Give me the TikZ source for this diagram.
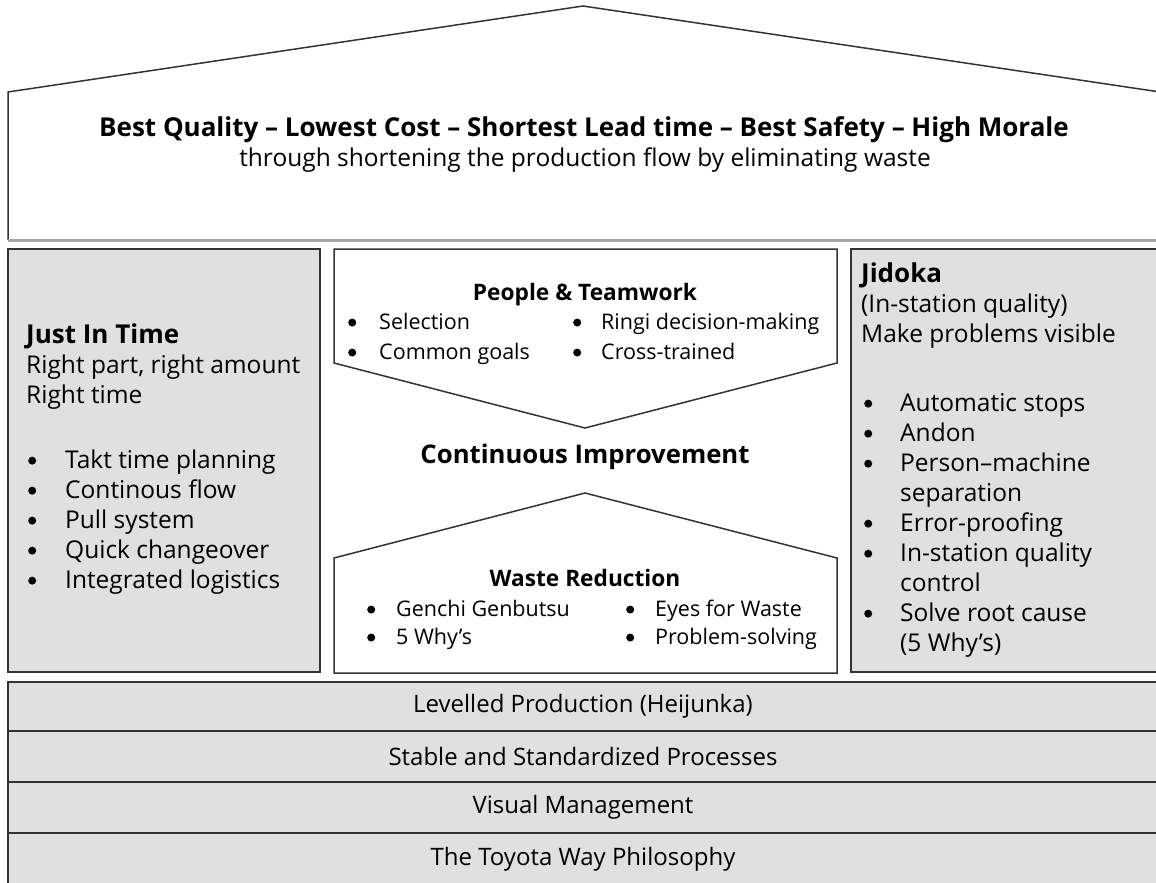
\documentclass[tikz,border=0pt]{standalone}
\usepackage{fontspec}
\setmainfont{Open Sans}
\usepackage{array}
\usetikzlibrary{calc}
\definecolor{pillargray}{HTML}{E0E0E0}
\definecolor{edgegray}{HTML}{333333}
\newcommand{\bodyfont}{\fontsize{24.5}{30}\selectfont}
\newcommand{\midfont}{\fontsize{21.5}{30}\selectfont}
\newcommand{\dotmark}{\tikz[baseline=-0.3em]\fill[black] (0,0) circle (4pt);}

\begin{document}
\begin{tikzpicture}[x=1pt,y=-1pt,
    outline/.style={draw=edgegray,line width=1.5pt},
    greybox/.style={outline,fill=pillargray},
    txt/.style={inner sep=0pt,align=left,font=\bodyfont},
    midtxt/.style={inner sep=0pt,align=center,font=\midfont}]
    \useasboundingbox (0,0) rectangle (1156,883);
    \draw[outline] (8,240) -- (8,92) -- (583,6) -- (1160,92) -- (1160,240);
    \draw[gray!70,line width=3pt] (8,240) -- (1160,240);
    \node[txt,font=\fontsize{26}{30}\selectfont\bfseries] (goal) at (584,130) {Best Quality -- Lowest Cost -- Shortest Lead time -- Best Safety -- High Morale};
    \node[txt] (flow) at (585,160) {through shortening the production flow by eliminating waste};

    \draw[greybox] (8,249) rectangle (320,672);
    \draw[greybox] (851,249) rectangle (1160,672);
    \draw[outline,fill=white] (334,249) -- (837,249) -- (837,363) -- (585,428) -- (334,363) -- cycle;
    \draw[outline,fill=white] (334,673) -- (334,558) -- (585,493) -- (837,558) -- (837,673) -- cycle;

    \node[txt,anchor=west] (jit) at (26,367) {{\fontsize{26}{30}\selectfont\bfseries Just In Time}\\Right part, right amount\\Right time};
    \node[txt,anchor=west] (jitlist) at (28,522) {\begin{tabular}{@{}p{37pt}@{}l@{}}
        \dotmark&Takt time planning\\ \dotmark&Continous flow\\ \dotmark&Pull system\\ \dotmark&Quick changeover\\ \dotmark&Integrated logistics
    \end{tabular}};

    \node[txt,anchor=west] (jidoka) at (861,306) {{\fontsize{26}{30}\selectfont\bfseries Jidoka}\\(In-station quality)\\Make problems visible};
    \node[txt,anchor=west] (jidlist) at (864,525) {\begin{tabular}{@{}p{36pt}@{}l@{}}
        \dotmark&Automatic stops\\ \dotmark&Andon\\ \dotmark&Person--machine\\ &separation\\ \dotmark&Error-proofing\\
        \dotmark&In-station quality\\ &control\\ \dotmark&Solve root cause\\ &(5 Why’s)
    \end{tabular}};

    \node[midtxt,font=\fontsize{22.7}{30}\selectfont\bfseries] (people) at (585,295) {People \& Teamwork};
    \node[midtxt,anchor=west] (peoplelist) at (348,338) {\begin{tabular}{@{}p{31pt}@{}p{194pt}@{}p{28pt}@{}l@{}}
        \dotmark&Selection&\dotmark&Ringi decision-making\\ \dotmark&Common goals&\dotmark&Cross-trained
    \end{tabular}};
    \node[midtxt,font=\fontsize{25.7}{30}\selectfont\bfseries] (kaizen) at (585,457) {Continuous Improvement};
    \node[midtxt,font=\fontsize{22.7}{30}\selectfont\bfseries] (waste) at (585,578) {Waste Reduction};
    \node[midtxt,anchor=west] (wastelist) at (367,624) {\begin{tabular}{@{}p{29pt}@{}p{230pt}@{}p{29pt}@{}l@{}}
        \dotmark&Genchi Genbutsu&\dotmark&Eyes for Waste\\[-2pt] \dotmark&5 Why’s&\dotmark&Problem-solving
    \end{tabular}};

    \foreach \top/\bot/\label [count=\i] in {682/731/{Levelled Production (Heijunka)},731/782/{Stable and Standardized Processes},782/833/{Visual Management},833/886/{The Toyota Way Philosophy}}
    {
        \draw[greybox] (8,\top) rectangle (1160,\bot);
        \node[txt,font=\fontsize{24}{30}\selectfont] (base\i) at (583,{(\top+\bot)/2}) {\label};
    }
\end{tikzpicture}
\end{document}
